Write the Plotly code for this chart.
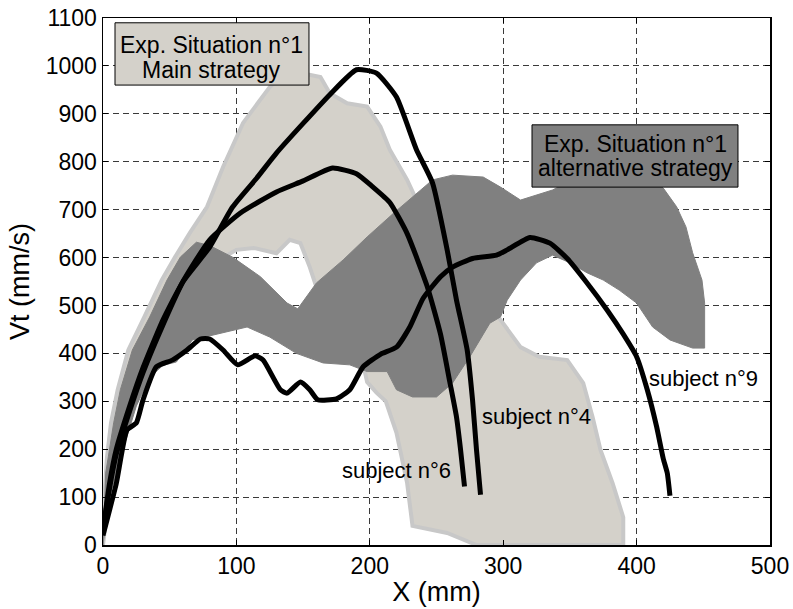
import plotly.graph_objects as go

# ---- data ----
# Subject trajectories: X (mm) vs Vt (mm/s)
s4_x = [0, 5, 10, 20, 30, 45, 60, 80, 97, 115, 130, 150, 170, 190, 205, 220, 235, 247, 258, 265, 273, 277, 280, 283]
s4_y = [30, 130, 200, 290, 370, 470, 550, 622, 705, 765, 818, 880, 940, 992, 985, 935, 825, 756, 616, 511, 407, 303, 198, 105]

s6_x = [0, 5, 10, 20, 30, 45, 60, 80, 103, 130, 150, 172, 190, 202, 215, 228, 243, 253, 260, 265, 268, 271]
s6_y = [30, 120, 190, 280, 360, 460, 550, 637, 693, 737, 760, 787, 775, 748, 715, 650, 540, 440, 340, 267, 200, 122]

s9_x = [0, 10, 18, 25, 30, 40, 52, 63, 73, 80, 90, 101, 114, 120, 133, 138, 148, 155, 161, 175, 185, 195,
        208, 220, 230, 240, 253, 262, 277, 295, 303, 320, 335, 348, 362, 378, 390, 400, 408, 415, 420, 423, 425]
s9_y = [20, 129, 240, 255, 303, 372, 386, 407, 430, 430, 407, 376, 395, 386, 324, 317, 340, 324, 303, 305, 324, 372,
        398, 413, 455, 515, 560, 580, 598, 605, 616, 642, 630, 598, 550, 490, 440, 393, 324, 247, 180, 150, 103]

# Envelope of the main strategy (light region), traced as a closed outline
main_x = [0, 1, 3, 6, 11, 19, 31, 44, 54, 65, 78, 90, 105, 118, 125, 133, 145, 163, 170, 183, 198, 208, 215, 228, 235,
          260, 280, 298, 313, 327, 348, 360, 367, 373, 382, 390, 390, 280, 258, 232, 228, 220, 212, 205, 198, 196,
          185, 170, 160, 155, 148, 140, 130, 113, 100, 90, 75, 60, 45, 30, 20, 10, 5, 0]
main_y = [0, 100, 184, 255, 324, 407, 476, 553, 601, 651, 706, 789, 881, 929, 956, 977, 987, 977, 943, 922, 915, 873, 825, 762, 720,
          630, 540, 470, 413, 393, 386, 338, 267, 198, 129, 58, 0, 0, 25, 40, 129, 234, 300, 318, 340, 365,
          420, 480, 538, 580, 630, 637, 609, 620, 616, 600, 560, 520, 450, 355, 275, 185, 115, 0]

# Envelope of the alternative strategy (dark region), traced as a closed outline
alt_x = [0, 2, 4, 8, 13, 22, 35, 48, 58, 70, 80, 97, 118, 138, 146, 160, 180, 198, 218, 232, 247, 262, 285, 298, 313,
         337, 350, 380, 410, 420, 430, 437, 442, 449, 451, 451, 442, 425, 412, 400, 387, 375, 363, 350, 337, 325, 313,
         303, 298, 290, 275, 262, 250, 232, 220, 213, 198, 185, 165, 145, 125, 108, 93, 80, 67, 55, 45, 35, 25, 15, 5, 0]
alt_y = [0, 150, 184, 255, 324, 407, 476, 553, 601, 632, 625, 601, 560, 505, 493, 547, 595, 643, 693, 727, 762, 772, 768, 747, 720,
         741, 760, 770, 765, 745, 706, 664, 610, 553, 505, 411, 411, 428, 455, 505, 532, 553, 568, 589, 605, 589, 553,
         511, 476, 463, 393, 338, 309, 309, 324, 362, 362, 376, 380, 400, 434, 455, 445, 436, 428, 382, 375, 350, 290, 200, 100, 0]

x_ticks = [0, 100, 200, 300, 400, 500]
y_ticks = [0, 100, 200, 300, 400, 500, 600, 700, 800, 900, 1000, 1100]

subject_labels = ["subject n°6", "subject n°4", "subject n°9"]
subject_label_x = [220, 325, 450]
subject_label_y = [155, 269, 347]

FONT = "Liberation Sans, Arial, sans-serif"
LIGHT = "#d4d1ca"
LIGHT_EDGE = "#c8c8c8"
DARK = "#808080"

fig = go.Figure()

fig.add_trace(go.Scatter(x=main_x, y=main_y, mode="lines", fill="toself",
                         fillcolor=LIGHT, line=dict(color=LIGHT_EDGE, width=4),
                         hoverinfo="skip", showlegend=False))
fig.add_trace(go.Scatter(x=alt_x, y=alt_y, mode="lines", fill="toself",
                         fillcolor=DARK, line=dict(color=DARK, width=1),
                         hoverinfo="skip", showlegend=False))

for xs, ys in [(s4_x, s4_y), (s6_x, s6_y), (s9_x, s9_y)]:
    fig.add_trace(go.Scatter(x=xs, y=ys, mode="lines",
                             line=dict(color="black", width=5, shape="spline", smoothing=0.5),
                             hoverinfo="skip", showlegend=False))

# Text boxes
fig.add_shape(type="rect", xref="x", yref="y", x0=9, x1=154.4, y0=960, y1=1090,
              fillcolor=LIGHT, line=dict(color="black", width=1), layer="above")
fig.add_shape(type="rect", xref="x", yref="y", x0=321.6, x1=476, y0=747, y1=877,
              fillcolor=DARK, line=dict(color="black", width=1), layer="above")

box_texts = ["Exp. Situation n°1", "Main strategy", "Exp. Situation n°1", "alternative strategy"]
box_tx = [81.7, 81.7, 398.8, 398.8]
box_ty = [1043, 992, 838, 787]
for t, bx, by in zip(box_texts, box_tx, box_ty):
    fig.add_annotation(x=bx, y=by, xref="x", yref="y", text=t, showarrow=False,
                       font=dict(family=FONT, size=23, color="black"),
                       xanchor="center", yanchor="middle")

for t, lx, ly in zip(subject_labels, subject_label_x, subject_label_y):
    fig.add_annotation(x=lx, y=ly, xref="x", yref="y", text=t, showarrow=False,
                       font=dict(family=FONT, size=22, color="black"),
                       xanchor="center", yanchor="middle")

axis_common = dict(
    showgrid=True, gridcolor="#3a3a3a", gridwidth=1, griddash="6px,4px",
    zeroline=False, showline=True, linecolor="black", linewidth=1.5,
    mirror="ticks", ticks="inside", ticklen=5, tickcolor="black",
    tickfont=dict(family=FONT, size=23, color="black"),
)

fig.update_xaxes(range=[0, 500], tickvals=x_ticks, ticktext=[str(v) for v in x_ticks],
                 title=dict(text="X (mm)", font=dict(family=FONT, size=27, color="black"), standoff=4),
                 **axis_common)
fig.update_yaxes(range=[0, 1100], tickvals=y_ticks, ticktext=[str(v) for v in y_ticks],
                 title=dict(text="Vt (mm/s)", font=dict(family=FONT, size=27, color="black"), standoff=8),
                 **axis_common)

fig.update_layout(
    width=793, height=609,
    margin=dict(l=103, r=23, t=18, b=64, autoexpand=False),
    plot_bgcolor="white", paper_bgcolor="white",
    font=dict(family=FONT, color="black"),
    hovermode=False,
)

fig.write_html("out.html",
               config={"displayModeBar": False, "staticPlot": True},
               post_script="document.body.style.margin='0px';document.body.style.overflow='hidden';")
